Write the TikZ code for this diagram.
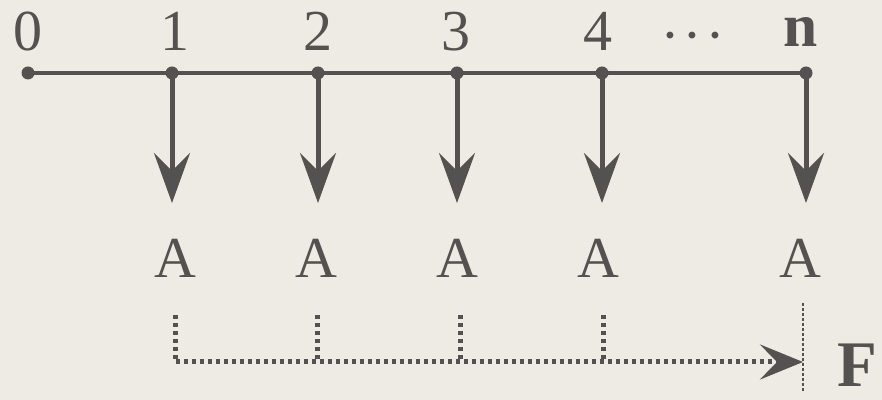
\documentclass[tikz,border=0pt]{standalone}
\usepackage{fontspec}
\setmainfont{Liberation Serif}
\usetikzlibrary{arrows.meta}
\definecolor{ink}{RGB}{84,82,80}
\definecolor{paper}{RGB}{238,235,228}
\tikzset{
    dot/.style={circle,fill=ink,inner sep=0pt,minimum size=0.26cm},
    num/.style={anchor=base,text=ink,inner sep=0pt,font=\fontsize{33}{35}\selectfont},
    pay/.style={draw=ink,line width=0.1cm,-{Stealth[length=1cm,width=0.72cm,inset=0.36cm]}},
    dots/.style={draw=ink,line width=0.1cm,dash pattern=on 0.08cm off 0.08cm}
}
\begin{document}
\begin{tikzpicture}
    \fill[paper] (0,0) rectangle (17.64,8);
    \useasboundingbox (0,0) rectangle (17.64,8);
    % time line
    \node[dot] (P0) at (0.56,6.54) {};
    \node[dot] (P1) at (3.44,6.54) {};
    \node[dot] (P2) at (6.36,6.54) {};
    \node[dot] (P3) at (9.14,6.54) {};
    \node[dot] (P4) at (12.04,6.54) {};
    \node[dot] (Pn) at (16.12,6.54) {};
    \draw[ink,line width=0.08cm] (P0.center)--(Pn.center);
    \node[num] (L0) at (0.56,6.98) {0};
    \node[num] (L1) at (3.5,6.98) {1};
    \node[num] (L2) at (6.36,6.98) {2};
    \node[num] (L3) at (9.12,6.98) {3};
    \node[num] (L4) at (11.96,6.98) {4};
    \node[num,font=\fontsize{32}{34}\selectfont\boldmath] (Ld) at (13.86,7.06) {$\cdots$};
    \node[num,font=\fontsize{35}{37}\selectfont\bfseries] (Ln) at (16.02,7.06) {n};
    % payments
    \coordinate (T1) at (3.44,3.94);
    \coordinate (T2) at (6.36,3.94);
    \coordinate (T3) at (9.14,3.94);
    \coordinate (T4) at (12.04,3.94);
    \coordinate (Tn) at (16.12,3.94);
    \draw[pay] (P1.center)--(T1);
    \draw[pay] (P2.center)--(T2);
    \draw[pay] (P3.center)--(T3);
    \draw[pay] (P4.center)--(T4);
    \draw[pay] (Pn.center)--(Tn);
    \node[num] (A1) at (3.5,2.44) {A};
    \node[num] (A2) at (6.32,2.44) {A};
    \node[num] (A3) at (9.14,2.44) {A};
    \node[num] (A4) at (11.96,2.44) {A};
    \node[num] (An) at (16.0,2.44) {A};
    % future value
    \coordinate (D1) at (3.5,1.7);
    \coordinate (D2) at (6.34,1.7);
    \coordinate (D3) at (9.2,1.7);
    \coordinate (D4) at (12.06,1.7);
    \coordinate (B1) at (3.5,0.76);
    \coordinate (B2) at (6.34,0.76);
    \coordinate (B3) at (9.2,0.76);
    \coordinate (B4) at (12.06,0.76);
    \coordinate (E) at (16.06,0.76);
    \draw[dots,-{Stealth[length=0.86cm,width=0.7cm,inset=0.34cm]}] (D1)--(B1)--(E);
    \draw[dots] (D2)--(B2);
    \draw[dots] (D3)--(B3);
    \draw[dots] (D4)--(B4);
    \draw[ink,line width=0.03cm,dash pattern=on 0.06cm off 0.04cm] (16.06,1.94)--(16.06,0.16);
    \node[num,font=\fontsize{37}{40}\selectfont\bfseries] (F) at (17.14,0.26) {F};
\end{tikzpicture}
\end{document}
